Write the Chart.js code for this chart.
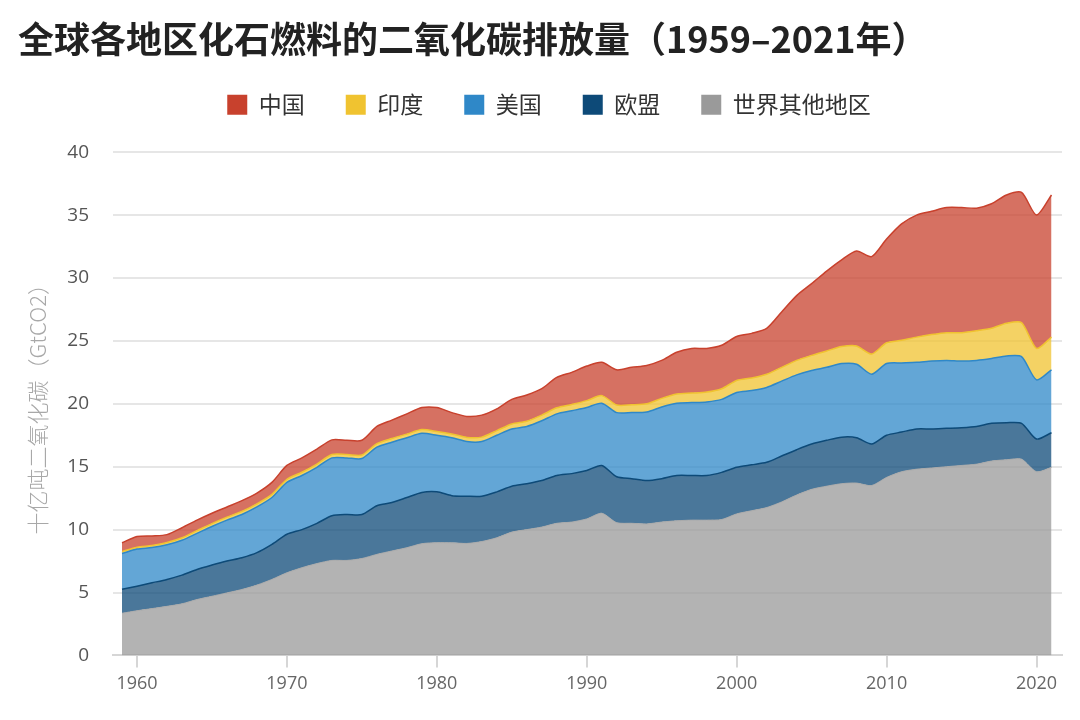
<!DOCTYPE html>
<html><head><meta charset="utf-8">
<script src="https://cdn.jsdelivr.net/npm/chart.js@4.4.0/dist/chart.umd.min.js"></script>
<style>html,body{margin:0;padding:0;background:#fff;}</style>
</head><body>
<canvas id="c" width="1080" height="720"></canvas>
<script>
const years = [1959,1960,1961,1962,1963,1964,1965,1966,1967,1968,
  1969,1970,1971,1972,1973,1974,1975,1976,1977,1978,
  1979,1980,1981,1982,1983,1984,1985,1986,1987,1988,
  1989,1990,1991,1992,1993,1994,1995,1996,1997,1998,
  1999,2000,2001,2002,2003,2004,2005,2006,2007,2008,
  2009,2010,2011,2012,2013,2014,2015,2016,2017,2018,
  2019,2020,2021];
const restOfWorld = [3.35,3.55,3.72,3.90,4.10,4.44,4.70,4.97,5.24,5.59,
  6.04,6.57,6.97,7.30,7.55,7.55,7.70,8.03,8.30,8.56,
  8.88,8.96,8.95,8.90,9.05,9.35,9.80,10.0,10.2,10.5,
  10.6,10.85,11.3,10.55,10.5,10.45,10.6,10.7,10.75,10.75,
  10.8,11.25,11.5,11.75,12.2,12.75,13.2,13.45,13.65,13.7,
  13.5,14.15,14.6,14.8,14.9,15.0,15.1,15.2,15.45,15.55,
  15.6,14.6,14.95];
const eu = [1.90,1.95,2.05,2.14,2.28,2.39,2.48,2.53,2.53,2.58,
  2.79,3.06,3.03,3.20,3.55,3.65,3.50,3.87,3.85,3.99,
  4.07,4.04,3.75,3.75,3.60,3.65,3.65,3.65,3.70,3.80,
  3.85,3.85,3.80,3.65,3.55,3.45,3.45,3.60,3.55,3.55,
  3.75,3.70,3.65,3.60,3.65,3.60,3.60,3.65,3.70,3.60,
  3.30,3.35,3.15,3.20,3.10,3.05,3.00,3.00,3.00,2.95,
  2.85,2.60,2.75];
const usa = [2.85,2.95,2.80,2.75,2.77,2.87,3.07,3.25,3.43,3.63,
  3.72,4.12,4.30,4.45,4.60,4.50,4.45,4.65,4.80,4.75,
  4.70,4.50,4.60,4.35,4.35,4.50,4.55,4.55,4.75,4.90,
  5.00,5.00,4.95,5.10,5.25,5.45,5.70,5.75,5.80,5.85,
  5.80,5.95,5.90,5.95,5.95,5.95,5.85,5.80,5.85,5.85,
  5.55,5.70,5.50,5.30,5.40,5.40,5.30,5.25,5.15,5.30,
  5.30,4.70,5.00];
const india = [0.15,0.15,0.17,0.18,0.20,0.22,0.23,0.24,0.25,0.25,
  0.25,0.25,0.26,0.26,0.27,0.27,0.28,0.28,0.29,0.29,
  0.30,0.30,0.30,0.33,0.35,0.37,0.40,0.42,0.45,0.48,
  0.50,0.55,0.60,0.60,0.62,0.65,0.68,0.72,0.75,0.78,
  0.85,0.95,1.00,1.05,1.10,1.15,1.20,1.30,1.35,1.45,
  1.60,1.65,1.80,2.00,2.10,2.20,2.25,2.35,2.40,2.60,
  2.70,2.50,2.60];
const china = [0.70,0.85,0.76,0.63,0.80,0.83,0.82,0.81,0.85,0.85,
  0.95,1.10,1.14,1.19,1.16,1.13,1.17,1.37,1.46,1.61,
  1.75,1.90,1.70,1.67,1.75,1.73,1.95,2.08,2.10,2.42,
  2.55,2.75,2.65,2.80,2.98,3.05,3.02,3.33,3.55,3.47,
  3.45,3.50,3.55,3.65,4.40,5.15,5.70,6.35,6.90,7.55,
  7.75,8.25,9.25,9.70,9.80,9.95,9.95,9.75,9.90,10.20,
  10.35,10.60,11.30];
const seriesNames = ['世界其他地区','欧盟','美国','印度','中国'];
const seriesData = [restOfWorld, eu, usa, india, china];
const seriesColors = ['#9a9a9a','#0d4a78','#2f88c8','#f0c330','#c8412d'];
const areaColors = ['rgba(154,154,154,0.75)','rgba(13,74,120,0.75)','rgba(47,136,200,0.75)','rgba(240,195,48,0.75)','rgba(200,65,45,0.75)'];
const xTicks = [1960,1970,1980,1990,2000,2010,2020];
const titleText = '全球各地区化石燃料的二氧化碳排放量（1959–2021年）';
const yTitle = '十亿吨二氧化碳（GtCO2）';

const CJK = '"Noto Sans CJK SC", "Noto Sans", sans-serif';
const LAT = '"Open Sans", "Noto Sans", sans-serif';

const datasets = seriesNames.map((name, i) => ({
  label: name,
  data: seriesData[i],
  backgroundColor: areaColors[i],
  borderColor: i === 0 ? 'rgba(170,170,170,1)' : seriesColors[i],
  borderWidth: i === 0 ? 1 : 1.5,
  fill: i === 0 ? 'origin' : '-1',
  pointRadius: 0,
  tension: 0.25
}));

const legendSpace = {
  id: 'legendSpace',
  beforeInit(chart) {
    const lg = chart.legend;
    if (!lg) return;
    const origFit = lg.fit;
    lg.fit = function () { origFit.call(this); this.height += 26; };
  },
  afterLayout(chart) {
    const lg = chart.legend;
    if (!lg) return;
    lg.left += 9; lg.right += 9;
  }
};

new Chart(document.getElementById('c'), {
  type: 'line',
  data: { labels: years, datasets },
  plugins: [legendSpace],
  options: {
    responsive: false,
    animation: false,
    layout: { padding: { left: 18, right: 18, top: 0, bottom: 19 } },
    plugins: {
      title: {
        display: true, text: titleText, align: 'start', color: '#222',
        font: { family: CJK, size: 36, weight: 'bold' },
        padding: { top: 18, bottom: -9 }
      },
      legend: {
        reverse: true,
        labels: {
          boxWidth: 20, boxHeight: 20, padding: 41, color: '#333',
          font: { family: CJK, size: 23 },
          generateLabels: chart => Chart.defaults.plugins.legend.labels.generateLabels(chart).map(l => ({
            ...l, fillStyle: seriesColors[l.datasetIndex], strokeStyle: seriesColors[l.datasetIndex], lineWidth: 0
          }))
        }
      },
      tooltip: { enabled: false }
    },
    scales: {
      x: {
        type: 'linear', min: 1958.4, max: 2021.7,
        afterBuildTicks: s => { s.ticks = xTicks.map(v => ({ value: v })); },
        grid: { drawOnChartArea: false, drawTicks: true, tickLength: 12, color: '#d6d6d6', lineWidth: 2 },
        border: { display: true, color: '#d6d6d6', width: 2 },
        ticks: { color: '#666', font: { family: LAT, size: 18 }, padding: 6, callback: v => String(v), maxRotation: 0 }
      },
      y: {
        stacked: true, min: 0, max: 40,
        ticks: { stepSize: 5, color: '#555', font: { family: LAT, size: 19 }, padding: 24 },
        grid: { color: '#e6e6e6', lineWidth: 2, drawTicks: false },
        border: { display: false },
        title: { display: true, text: yTitle, color: '#a8a8a8', font: { family: CJK, size: 22, weight: '300' }, padding: { top: 6, bottom: 0 } },
        afterFit: s => { s.width = 95; }
      }
    }
  }
});
</script>
</body></html>
